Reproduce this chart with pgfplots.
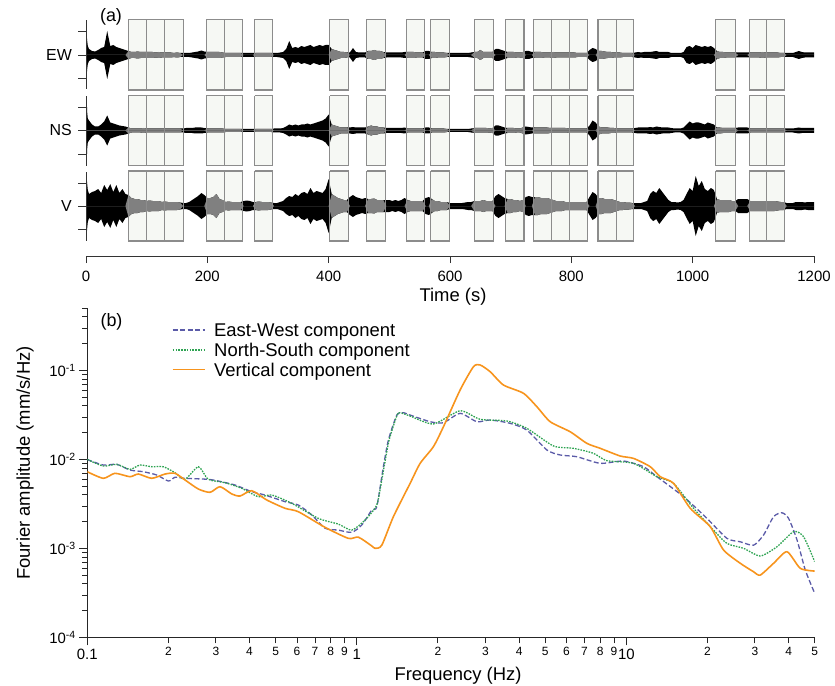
\documentclass[border=0pt]{standalone}
\usepackage{fontspec}
\setmainfont{Liberation Sans}
\usepackage{pgfplots}
\pgfplotsset{compat=1.18}
\usepackage{pgfplotstable}
\definecolor{ewcol}{HTML}{5B5BA8}
\definecolor{nscol}{HTML}{2EA352}
\definecolor{vertcol}{HTML}{F7941D}
\definecolor{tgray}{HTML}{808080}
\definecolor{boxfill}{HTML}{F6F8F4}
\definecolor{boxedge}{HTML}{8C8C8C}

\pgfplotstableread{
t e n v g
0 3 4 5 0
1 21 33 29 0
2 14 18 22 0
3 9 12 16 0
5 6 10 12 0
10 4 6 14 0
15 3.5 4 15 0
20 5 4 17 0
25 7 6 13 0
30 8 9 21 0
35 24 15 16 0
40 9 8 22 0
45 10 7 14 0
50 8 6 21 0
55 7 5 13 0
60 6 4.5 17 0
65 5 4 12 0
70 4 3 11 1
75 3 2 8 1
80 3 2 7 1
85 3.5 2 7 1
90 3 2 6 1
95 3 2.5 6 1
100 3 2 5 1
105 3 2 5.5 1
110 3 2 5 1
115 2.5 2 5 1
120 3 2 5 1
125 2.5 2 4 1
130 2.5 2 4.5 1
135 2.5 2 4 1
140 2.5 2 4 1
145 2 2 4 1
150 2.5 2 4 1
155 2 2 3.5 1
160 2 2 3 0
165 2 2.5 3 0
170 2 2.5 4 0
175 2.5 2.5 6 0
180 3 3 8 0
185 3.5 3 10 0
190 4.5 3 13 0
195 3.5 2.5 11 0
200 3 2 8 1
205 3 2 8 1
210 3 2 9 1
215 3 2 12 1
220 3 2 7 1
225 2.5 2 6 1
230 2 1.5 4 1
235 2 1.5 4.5 1
240 2 1.5 4 1
245 2 1.5 4 1
250 2 1.5 4 1
255 2 1.5 4 1
260 2 1.5 5 0
265 2 1.5 5.5 0
270 2 1.5 5 0
275 2 1.5 4 0
280 2 1.5 4 1
285 2 1.5 4.5 1
290 2 1.5 4 1
295 2 1.5 4 1
300 2 1.5 4 1
305 2 1.5 3.5 1
310 2 2 3 0
315 2 2 3 0
320 2.5 2 4 0
325 3 2.5 5 0
330 6 4 8 0
335 14 6 10 0
340 7 5 9 0
345 8 6 12 0
350 7 5 10 0
355 9 6 13 0
360 8 6 14 0
365 9 7 12 0
370 10 6 18 0
375 8 7 13 0
380 9 8 15 0
385 10 9 14 0
390 9 10 13 0
395 10 12 17 0
400 10 16 27 0
405 6 6 12 1
410 5 5 10 1
415 4 4 8 1
420 3 3 7 1
425 3 3 6 1
430 2.5 3 6 1
435 2.5 3 9 0
440 7 3.5 11 0
445 3 3 9 0
450 2.5 3 8 0
455 2.5 3 7 0
460 2.5 3 8 0
465 4 4 7 1
470 4 5 7 1
475 5 4 7.5 1
480 4 4 6 1
485 4 3 6 1
490 3 3 6 1
495 2.5 2.5 6 0
500 2.5 2.5 6 0
505 2.5 2.5 5 0
510 2.5 2.5 6 0
515 2.5 2.5 5 0
520 2.5 2.5 6 0
525 3 3 8 0
530 3 2 6 1
535 3 2 5 1
540 3 2 5 1
545 2.5 2 5 1
550 2.5 2 5 1
555 2.5 2 5 1
560 4 3 8 0
565 4 3 9 0
570 3 2 7 1
575 3 2 5 1
580 2.5 2 5 1
585 2.5 2 4 1
590 2.5 2 4 1
595 2 1.5 4 1
600 2 1.5 3 0
605 2 1.5 3 0
610 2 1.5 3 0
615 2 1.5 3 0
620 2 1.5 3 0
625 2 1.5 3.5 0
630 2 1.5 4 0
635 2.5 2 4 0
640 3 2.5 5 1
645 3 2.5 5 1
650 5 2.5 5 1
655 3 2.5 6 1
660 3 2.5 5 1
665 3 2 5 1
670 3 2.5 5 1
675 6 5 10 0
680 6 5 12 0
685 5 4 10 0
690 4 3 8 0
695 3 2.5 7 1
700 3 2.5 7 1
705 3 2.5 6 1
710 2.5 2 6 1
715 2.5 2 5 1
720 3 3 6 1
725 4 4 9 0
730 4 3.5 10 0
735 3 3 9 0
740 3 3 9 1
745 3 3 9 1
750 3 3 8 1
755 2.5 3 8 1
760 2.5 3 8 1
765 2.5 2.5 7 1
770 3 2.5 6 1
775 2.5 2.5 5 1
780 2.5 2.5 5 1
785 2.5 2.5 5 1
790 2.5 2.5 4 1
795 2.5 2 4 1
800 2.5 2 4 1
805 2.5 2 4 1
810 2 2 4 1
815 2 2 4 1
820 2 2 4 1
825 2 2 4 1
830 5 5 9 0
835 7 10 14 0
840 6 8 12 0
845 4 4 8 1
850 4 3 8 1
855 3.5 3 7 1
860 3 3 7 1
865 3 2.5 7 1
870 2.5 2.5 6 1
875 2.5 2 5 1
880 2.5 2 4 1
885 2 2 4 1
890 2 2 3.5 1
895 2 2 3.5 1
900 2 2 3 1
905 2.5 2.5 3 0
910 3 3 3 0
915 2.5 3 3 0
920 3 3 4 0
925 3 3 5 0
930 3 3.5 12 0
935 3.5 3 15 0
940 4 4 13 0
945 3 3.5 18 0
950 3 3 14 0
955 3 3 10 0
960 3 3 6 0
965 2 2.5 4 0
970 2 2 4 0
975 2 2 3.5 0
980 2 2 4 0
985 3 3 6 0
990 8 6 12 0
995 9 9 18 0
1000 7 7 15 0
1005 10 8 30 0
1010 9 8 20 0
1015 8 7 25 0
1020 9 6 17 0
1025 8 8 15 0
1030 9 7 18 0
1035 7 6 16 0
1040 4 3 7 1
1045 3 3 6 1
1050 3 2.5 6 1
1055 2.5 2.5 6 1
1060 2.5 2.5 6 1
1065 2.5 2.5 5 1
1070 2.5 2.5 5 1
1075 2.5 3 7 0
1080 2.5 3 7 0
1085 2.5 3 7 0
1090 2.5 3 7 0
1095 2.5 2 5 1
1100 2.5 2 5 1
1105 2.5 2 5 1
1110 2.5 2 5 1
1115 3 2 5 1
1120 2.5 2 5 1
1125 2.5 2 5 1
1130 2.5 2 5 1
1135 2.5 2 5 1
1140 2.5 2 4.5 1
1145 2 2 4 1
1150 2 2 4 1
1155 2 2 3 0
1160 2 2 3 0
1165 2 2 3 0
1170 3 2.5 4 0
1175 4 3 4 0
1180 3 2.5 4 0
1185 2.5 2.5 3.5 0
1190 2.5 2.5 4 0
1195 2.5 2.5 4 0
1200 2.5 2.5 4 0
}\trace

\def\winfill#1/#2\relax{%
  \addplot[draw=none, fill=boxfill] coordinates {(#1,-19.5) (#2,-19.5) (#2,-90) (#1,-90) (#1,-19.5)};
  \addplot[draw=none, fill=boxfill] coordinates {(#1,-95.5) (#2,-95.5) (#2,-165.5) (#1,-165.5) (#1,-95.5)};
  \addplot[draw=none, fill=boxfill] coordinates {(#1,-171) (#2,-171) (#2,-241) (#1,-241) (#1,-171)};
}
\def\winedge#1/#2\relax{%
  \addplot[boxedge, line width=1.1bp] coordinates {(#1,-19.5) (#2,-19.5) (#2,-90) (#1,-90) (#1,-19.5)};
  \addplot[boxedge, line width=1.1bp] coordinates {(#1,-95.5) (#2,-95.5) (#2,-165.5) (#1,-165.5) (#1,-95.5)};
  \addplot[boxedge, line width=1.1bp] coordinates {(#1,-171) (#2,-171) (#2,-241) (#1,-241) (#1,-171)};
}
\newcommand\windows{70/100,100/130,130/160,198/228,228/258,278/308,402/432,463/494,528/558,568/599,640/671,691/722,737/767,767/797,797/827,844/874,874/903,1038/1071,1093/1122,1122/1152}

\pgfplotsset{
  panelbase/.style={at={(86bp,-256bp)}, anchor=south west,
    scale only axis, width=728bp, height=241bp, xmin=0, xmax=1200},
}

\begin{document}
\begin{tikzpicture}
\useasboundingbox (0bp,0bp) rectangle (835bp,-686bp);
% ---------------- panel (a): frame, boxes
\begin{axis}[
  panelbase, ymin=-256, ymax=-15,
  axis x line=bottom, axis y line=none,
  axis line style={-, line width=1bp, black!80},
  xtick={0,200,400,600,800,1000,1200},
  xticklabels={0,200,400,600,800,1000,1200},
  ytick=\empty,
  tick align=outside, major tick length=7bp,
  tick style={black!80, line width=1bp},
  tick label style={font=\fontsize{15}{15}\selectfont},
  xticklabel style={yshift=-5bp},
]
\expandafter\pgfplotsinvokeforeach\expandafter{\windows}{\winfill#1\relax}
\end{axis}
% ---------------- EW trace (zero line at its centre)
\begin{axis}[panelbase, ymin=-201, ymax=40, hide axis]
\addplot[draw=none, fill=black] table[x=t, y=e] {\trace} \closedcycle;
\addplot[draw=none, fill=black] table[x=t, y expr=-\thisrow{e}] {\trace} \closedcycle;
\addplot[draw=none, fill=tgray] table[x=t, y expr=\thisrow{e}*\thisrow{g}] {\trace} \closedcycle;
\addplot[draw=none, fill=tgray] table[x=t, y expr=-\thisrow{e}*\thisrow{g}] {\trace} \closedcycle;
\end{axis}
% ---------------- NS trace
\begin{axis}[panelbase, ymin=-125.5, ymax=115.5, hide axis]
\addplot[draw=none, fill=black] table[x=t, y=n] {\trace} \closedcycle;
\addplot[draw=none, fill=black] table[x=t, y expr=-\thisrow{n}] {\trace} \closedcycle;
\addplot[draw=none, fill=tgray] table[x=t, y expr=\thisrow{n}*\thisrow{g}] {\trace} \closedcycle;
\addplot[draw=none, fill=tgray] table[x=t, y expr=-\thisrow{n}*\thisrow{g}] {\trace} \closedcycle;
\end{axis}
% ---------------- V trace
\begin{axis}[panelbase, ymin=-50, ymax=191, hide axis]
\addplot[draw=none, fill=black] table[x=t, y=v] {\trace} \closedcycle;
\addplot[draw=none, fill=black] table[x=t, y expr=-\thisrow{v}] {\trace} \closedcycle;
\addplot[draw=none, fill=tgray] table[x=t, y expr=\thisrow{v}*\thisrow{g}] {\trace} \closedcycle;
\addplot[draw=none, fill=tgray] table[x=t, y expr=-\thisrow{v}*\thisrow{g}] {\trace} \closedcycle;
\end{axis}
% ---------------- panel (a): box edges
\begin{axis}[panelbase, ymin=-256, ymax=-15, hide axis]
\expandafter\pgfplotsinvokeforeach\expandafter{\windows}{\winedge#1\relax}
\end{axis}
% left axis segments of the three traces
\begin{scope}[black!80, line width=1bp]
\draw (86bp,-20bp) -- (86bp,-89bp);
\draw (86bp,-96bp) -- (86bp,-166bp);
\draw (86bp,-172bp) -- (86bp,-241bp);
\draw (78bp,-31.7bp) -- (86bp,-31.7bp);
\draw (78bp,-55bp) -- (86bp,-55bp);
\draw (78bp,-78.3bp) -- (86bp,-78.3bp);
\draw (78bp,-107bp) -- (86bp,-107bp);
\draw (78bp,-130.5bp) -- (86bp,-130.5bp);
\draw (78bp,-154bp) -- (86bp,-154bp);
\draw (78bp,-183bp) -- (86bp,-183bp);
\draw (78bp,-206bp) -- (86bp,-206bp);
\draw (78bp,-229.5bp) -- (86bp,-229.5bp);
\end{scope}
% ---------------- panel (b)
\begin{axis}[
  at={(87.3bp,-637.5bp)}, anchor=south west,
  scale only axis, width=727.4bp, height=329.2bp,
  xmode=log, ymode=log,
  xmin=0.1, xmax=50, ymin=1e-4, ymax=0.5,
  axis x line=bottom, axis y line=left,
  axis line style={-, line width=1bp, black!85},
  tick align=outside, major tick length=8bp, minor tick length=5bp,
  tick style={black!85, line width=0.9bp},
  xtick={0.1,1,10}, xticklabels={0.1,1,10},
  extra x ticks={0.2,0.3,0.4,0.5,0.6,0.7,0.8,0.9,2,3,4,5,6,7,8,9,20,30,40,50},
  extra x tick labels={2,3,4,5,6,7,8,9,2,3,4,5,6,7,8,9,2,3,4,5},
  extra x tick style={major tick length=6bp, tick label style={font=\fontsize{12}{12}\selectfont}},
  ytick={1e-4,1e-3,1e-2,1e-1},
  yticklabels={10\textsuperscript{-4},10\textsuperscript{-3},10\textsuperscript{-2},10\textsuperscript{-1}},
  minor ytick={2e-4,3e-4,4e-4,5e-4,6e-4,7e-4,8e-4,9e-4,2e-3,3e-3,4e-3,5e-3,6e-3,7e-3,8e-3,9e-3,2e-2,3e-2,4e-2,5e-2,6e-2,7e-2,8e-2,9e-2,0.2,0.3,0.4,0.5},
  tick label style={font=\fontsize{15}{15}\selectfont},
]
\addplot[ewcol, line width=1.3bp, dash pattern=on 5bp off 2.5bp, smooth, tension=0.4] coordinates {
(0.1,0.0100) (0.1147,0.00867) (0.1286,0.00883) (0.144,0.00762) (0.1614,0.00729) (0.181,0.00670) (0.200,0.00573) (0.2116,0.00631) (0.2305,0.00615) (0.2813,0.00599) (0.3064,0.00573) (0.3534,0.00517) (0.4076,0.00435) (0.4566,0.00399) (0.5418,0.00336) (0.607,0.00308) (0.6808,0.00238) (0.7626,0.00169) (0.8545,0.00161) (0.958,0.00152) (1.044,0.00184) (1.137,0.00271) (1.186,0.00295) (1.255,0.0083) (1.31,0.01656) (1.408,0.0316) (1.489,0.0336) (1.577,0.0316) (1.871,0.0266) (2.097,0.0259) (2.417,0.0330) (2.789,0.0266) (3.125,0.0278) (3.707,0.0255) (4.276,0.0214) (5.073,0.0128) (5.686,0.01124) (6.555,0.01075) (8.0,0.00906) (9.76,0.00962) (11.58,0.0083) (12.99,0.00641) (16.31,0.00382) (19.92,0.00218) (23.63,0.00130) (26.48,0.00119) (29.66,0.00109) (32.31,0.00142) (35.19,0.00228) (37.81,0.00252) (40.0,0.00218) (42.99,0.00125) (46.14,0.000573) (50,0.000314)
};
\addplot[nscol, line width=1.3bp, dash pattern=on 1.6bp off 1.2bp, smooth, tension=0.4] coordinates {
(0.1,0.0100) (0.1147,0.00845) (0.1286,0.00883) (0.144,0.00776) (0.1569,0.00867) (0.1734,0.0083) (0.1915,0.0083) (0.2116,0.00711) (0.2305,0.00599) (0.2583,0.0083) (0.2813,0.00599) (0.3244,0.00549) (0.3742,0.00475) (0.4312,0.00382) (0.4836,0.00399) (0.5737,0.00322) (0.7202,0.00218) (0.8545,0.00188) (0.958,0.00161) (1.0735,0.00209) (1.169,0.00285) (1.2,0.00351) (1.263,0.0083) (1.318,0.01656) (1.411,0.0316) (1.448,0.0336) (1.577,0.0308) (1.924,0.0251) (2.417,0.0353) (2.869,0.0283) (3.605,0.0271) (4.276,0.0224) (5.367,0.0142) (6.368,0.01336) (7.553,0.01174) (8.472,0.0097) (10.63,0.00906) (12.99,0.00641) (14.97,0.0054) (17.76,0.00283) (21.07,0.00161) (23.63,0.00114) (27.23,0.001005) (31.4,0.000824) (36.22,0.001047) (41.75,0.001546) (45.47,0.001357) (50,0.000711)
};
\addplot[vertcol, line width=1.6bp, smooth, tension=0.4] coordinates {
(0.1,0.00729) (0.1147,0.00615) (0.1267,0.0070) (0.144,0.00641) (0.1547,0.00687) (0.1734,0.00615) (0.1943,0.00687) (0.2116,0.0070) (0.2305,0.00589) (0.2583,0.00466) (0.2854,0.00428) (0.3109,0.00495) (0.3436,0.0041) (0.3688,0.00389) (0.4076,0.00446) (0.4634,0.00351) (0.5418,0.00283) (0.607,0.00259) (0.7626,0.00173) (0.931,0.0013) (1.014,0.00134) (1.137,0.001067) (1.17,0.001005) (1.238,0.00109) (1.367,0.00228) (1.577,0.0054) (1.718,0.00906) (1.924,0.01393) (2.097,0.0234) (2.417,0.0604) (2.709,0.1104) (2.869,0.1154) (3.125,0.0969) (3.502,0.0687) (4.153,0.0555) (4.658,0.0392) (5.218,0.0266) (6.192,0.0205) (7.139,0.0152) (8.0,0.01336) (9.49,0.01095) (10.63,0.0103) (12.27,0.0083) (13.36,0.00641) (14.97,0.0054) (17.27,0.00283) (20.48,0.00176) (22.95,0.000962) (26.48,0.000682) (29.66,0.000548) (31.4,0.000503) (35.19,0.000682) (39.46,0.00092) (44.2,0.000599) (50,0.000558)
};
\end{axis}
% ---------------- legend (drawn by hand)
\draw[ewcol, line width=1.3bp, dash pattern=on 5bp off 2.5bp] (172.7bp,-330bp) -- (205bp,-330bp);
\draw[nscol, line width=1.3bp, dash pattern=on 1.6bp off 1.2bp] (172.7bp,-350bp) -- (205bp,-350bp);
\draw[draw=vertcol, line width=1.6bp] (172.7bp,-369.5bp) -- (205bp,-369.5bp);
\begin{scope}[every node/.style={font=\fontsize{18.5}{18.5}\selectfont, anchor=base west, inner sep=0pt}]
\node at (214bp,-336bp) {East-West component};
\node at (214bp,-356.5bp) {North-South component};
\node at (214bp,-376bp) {Vertical component};
\end{scope}
% ---------------- texts
\node[font=\fontsize{18}{18}\selectfont] at (111bp,-16.7bp) {(a)};
\node[font=\fontsize{18}{18}\selectfont] at (111.5bp,-321.7bp) {(b)};
\node[font=\fontsize{16}{16}\selectfont, anchor=east, inner sep=0pt] at (72bp,-55bp) {EW};
\node[font=\fontsize{16}{16}\selectfont, anchor=east, inner sep=0pt] at (72bp,-130.5bp) {NS};
\node[font=\fontsize{16}{16}\selectfont, anchor=east, inner sep=0pt] at (72bp,-206bp) {V};
\node[font=\fontsize{18.5}{18.5}\selectfont] at (453bp,-297bp) {Time (s)};
\node[font=\fontsize{18.5}{18.5}\selectfont] at (458bp,-676bp) {Frequency (Hz)};
\node[font=\fontsize{18.5}{18.5}\selectfont, rotate=90] at (25bp,-463bp) {Fourier amplitude (mm/s/Hz)};
\end{tikzpicture}
\end{document}
